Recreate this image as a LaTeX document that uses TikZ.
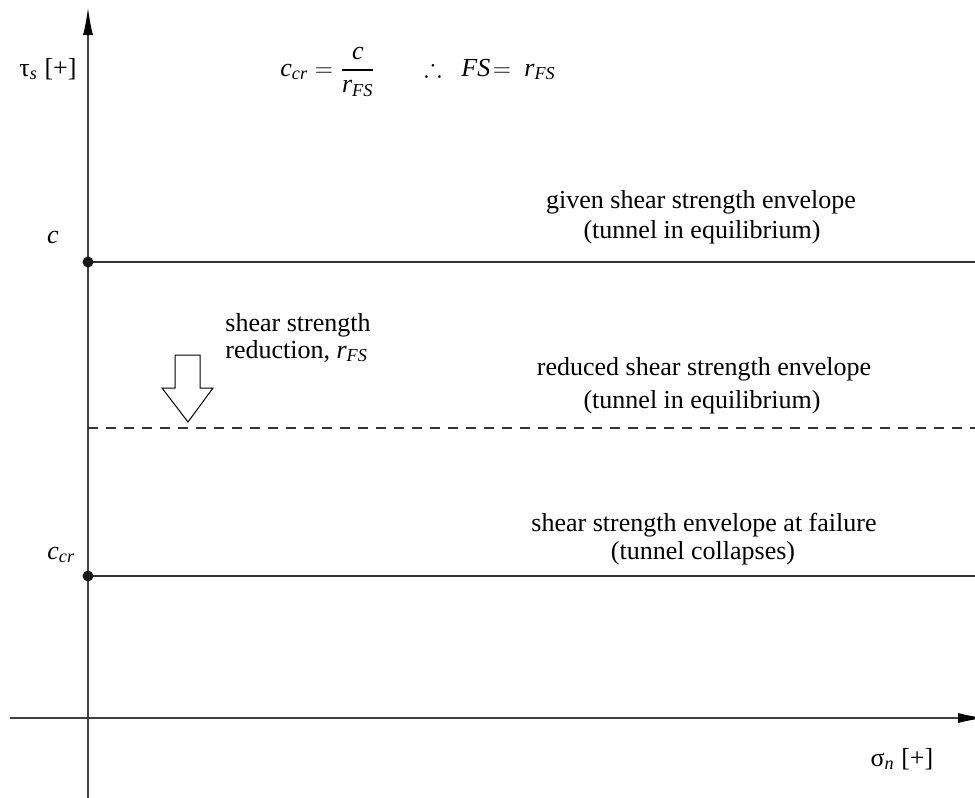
\documentclass[tikz,border=0pt]{standalone}
\usepackage{amsmath,amssymb}
\usepackage{fontspec}
\setmainfont{Liberation Serif}
\usetikzlibrary{arrows.meta}
\begin{document}
\begin{tikzpicture}[x=0.5pt,y=-0.5pt,
  txt/.style={font=\fontsize{13}{15}\selectfont, inner sep=0pt, anchor=base},
  axisline/.style={line width=0.65pt, draw=black!75, -{Latex[length=13.5pt,width=5pt,fill=black,color=black]}},
  envline/.style={line width=0.6pt, draw=black!80},
  dashenv/.style={envline, dash pattern=on 5pt off 4pt},
  dotp/.style={circle, fill=black!90, inner sep=0pt, minimum size=5.5pt},
  blockarrow/.style={line width=0.5pt, draw=black, fill=white, line join=miter}
]
\useasboundingbox (0,0) rectangle (975,798);
% axes
\coordinate (ybot) at (88,798);
\coordinate (ytop) at (88,8);
\coordinate (xl) at (10,718);
\coordinate (xr) at (985,718);
\draw[axisline] (ybot) -- (ytop);
\draw[axisline] (xl) -- (xr);
% envelopes
\coordinate (ec) at (975,262);
\coordinate (dl) at (88,428);
\coordinate (dr) at (975,428);
\coordinate (ecr) at (975,576);
\draw[envline] (88,262) -- (ec);
\draw[dashenv] (dl) -- (dr);
\draw[envline] (88,576) -- (ecr);
\node[dotp] (pc) at (88,262) {};
\node[dotp] (pccr) at (88,576) {};
% block arrow
\draw[blockarrow] (175,355) -- (200,355) -- (200,388) -- (213,388) -- (188,422) -- (162,388) -- (175,388) -- cycle;
% axis labels
\node[txt] (tau) at (48,76) {τ\textsubscript{\textit{s}} [+]};
\node[txt] (sig) at (902,766) {σ\textsubscript{\textit{n}} [+]};
\node[txt] (lc) at (53,243) {\textit{c}};
\node[txt, anchor=base west] (lccr) at (47,559) {$\textit{c}_{\textit{cr}}$};
% formula
\node[txt, anchor=base west] (f1) at (280,76) {$\textit{c}_{\textit{cr}} = \dfrac{\textit{c}}{\textit{r}_{\textit{FS}}}$};
\node[txt, anchor=base west] (f2) at (424,76) {$\therefore\enspace\textit{FS}\!= \ \textit{r}_{\textit{FS}}$};
% reduction label
\node[txt, anchor=base west] (red1) at (225,331) {shear strength};
\node[txt, anchor=base west] (red2) at (225,358) {reduction, $\textit{r}_{\textit{FS}}$};
% envelope labels
\node[txt] (g1) at (701,208) {given shear strength envelope};
\node[txt] (g2) at (702,238) {(tunnel in equilibrium)};
\node[txt] (r1) at (704,375) {reduced shear strength envelope};
\node[txt] (r2) at (702,408) {(tunnel in equilibrium)};
\node[txt] (s1) at (704,531) {shear strength envelope at failure};
\node[txt] (s2) at (703,559) {(tunnel collapses)};
\end{tikzpicture}
\end{document}
